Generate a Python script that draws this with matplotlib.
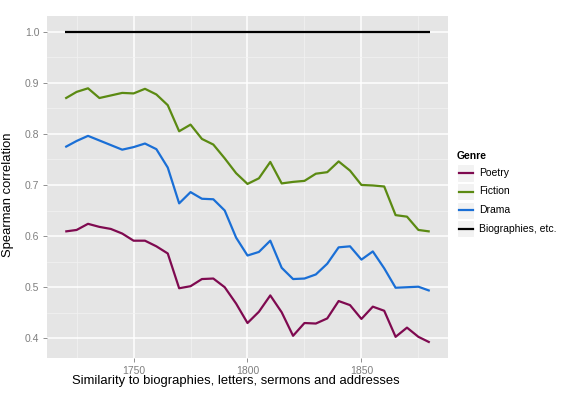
import numpy as np
import matplotlib
matplotlib.use("Agg")
import matplotlib.pyplot as plt
from matplotlib.lines import Line2D
from matplotlib.patches import Rectangle

plt.rcParams['font.family'] = ['Liberation Sans', 'DejaVu Sans']

years = list(range(1720, 1881, 5))

poetry = [0.609, 0.612, 0.624, 0.618, 0.614, 0.605, 0.591, 0.591, 0.580, 0.566,
          0.498, 0.502, 0.516, 0.517, 0.500, 0.468, 0.430, 0.452, 0.484, 0.451,
          0.405, 0.430, 0.429, 0.439, 0.473, 0.465, 0.438, 0.462, 0.454, 0.403,
          0.421, 0.403, 0.392]
fiction = [0.869, 0.882, 0.889, 0.870, 0.875, 0.880, 0.879, 0.888, 0.877, 0.856,
           0.805, 0.818, 0.790, 0.779, 0.752, 0.723, 0.702, 0.713, 0.745, 0.703,
           0.706, 0.708, 0.722, 0.725, 0.746, 0.728, 0.700, 0.699, 0.697, 0.641,
           0.638, 0.612, 0.609]
drama = [0.774, 0.786, 0.796, 0.787, 0.778, 0.769, 0.774, 0.781, 0.770, 0.734,
         0.664, 0.686, 0.673, 0.672, 0.650, 0.597, 0.562, 0.569, 0.591, 0.538,
         0.516, 0.517, 0.525, 0.546, 0.578, 0.580, 0.554, 0.570, 0.537, 0.499,
         0.500, 0.501, 0.493]
biographies = [1.0] * len(years)

genres = ["Poetry", "Fiction", "Drama", "Biographies, etc."]
colors = ["#7f0a50", "#5b8a12", "#1a6fd6", "#000000"]
series = [poetry, fiction, drama, biographies]

fig = plt.figure(figsize=(5.8, 3.99), dpi=100)
ax = fig.add_axes([47 / 580, 1 - 358 / 399, 401 / 580, 342 / 399])
ax.set_facecolor("#e5e5e5")

for vals, c in zip(series, colors):
    ax.plot(years, vals, color=c, lw=1.6, solid_capstyle="butt", zorder=3)

ax.set_xlim(1712, 1888)
ax.set_ylim(0.3616, 1.0304)
ax.set_xticks([1750, 1800, 1850])
ax.set_xticks([1725, 1775, 1825, 1875], minor=True)
ax.set_yticks(np.arange(0.4, 1.01, 0.1))
ax.set_yticks(np.arange(0.45, 1.0, 0.1), minor=True)
ax.grid(which="major", color="white", lw=1.1, zorder=1)
ax.grid(which="minor", color="#f2f2f2", lw=0.5, zorder=1)
for s in ax.spines.values():
    s.set_visible(False)
ax.tick_params(which="major", colors="#7f7f7f", labelsize=7.5, length=3, width=0.6, pad=2.5)
ax.tick_params(which="minor", length=0)
ax.set_yticklabels(["%.1f" % v for v in np.arange(0.4, 1.01, 0.1)])

ax.set_xlabel("Similarity to biographies, letters, sermons and addresses", fontsize=9.4)
ax.set_ylabel("Spearman correlation", fontsize=9.4)
ax.xaxis.set_label_coords(0.471, -0.05)
ax.yaxis.set_label_coords(-0.083, 0.477)

# legend
W, H = 580, 399
fig.text(457 / W, 1 - 156 / H, "Genre", fontsize=7.5, fontweight="bold", va="center", ha="left")
rows = [173, 191.5, 210, 228.5]
for g, c, yc in zip(genres, colors, rows):
    fig.add_artist(Rectangle((457 / W, 1 - (yc + 8.5) / H), 17 / W, 17 / H,
                             transform=fig.transFigure, facecolor="#f2f2f2",
                             edgecolor="white", lw=0.8))
    fig.add_artist(Line2D([458.5 / W, 472.5 / W], [1 - yc / H, 1 - yc / H],
                          transform=fig.transFigure, color=c, lw=1.6))
    fig.text(479 / W, 1 - yc / H, g, fontsize=7.5, va="center", ha="left")

fig.savefig("out.png", dpi=100)
